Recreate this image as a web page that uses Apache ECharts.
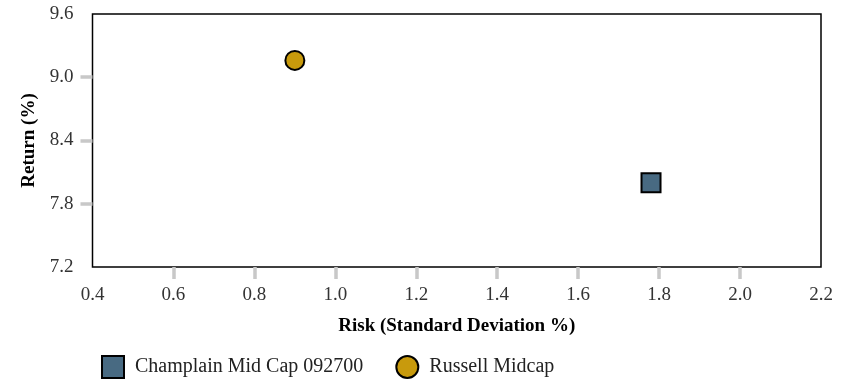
<!DOCTYPE html>
<html><head><meta charset="utf-8">
<script src="https://cdn.jsdelivr.net/npm/echarts@6/dist/echarts.min.js"></script>
<style>html,body{margin:0;padding:0;background:#fff}#c{width:852px;height:380px}</style>
</head><body><div id="c"></div>
<script>
const seriesNames = ["Champlain Mid Cap 092700", "Russell Midcap"];
const champlainPoint = [1.78, 8.0];
const russellPoint = [0.90, 9.16];
const xTicks = [0.6, 0.8, 1.0, 1.2, 1.4, 1.6, 1.8, 2.0];
const yTicks = [7.8, 8.4, 9.0];
const font = "'Liberation Serif', 'DejaVu Serif', serif";
const chart = echarts.init(document.getElementById('c'));
chart.setOption({
  animation: false,
  grid: {left: 92.5, right: 31, top: 14, bottom: 113, show: true, borderColor: '#000', borderWidth: 1.5, containLabel: false},
  xAxis: {
    type: 'value', min: 0.4, max: 2.2, interval: 0.2,
    name: 'Risk (Standard Deviation %)', nameLocation: 'middle', nameGap: 50,
    nameTextStyle: {fontFamily: font, fontWeight: 'bold', fontSize: 19, color: '#000'},
    axisLine: {show: false},
    splitLine: {show: false},
    axisTick: {show: true, length: 12, customValues: xTicks, lineStyle: {color: '#c8c8c8', width: 3.5}},
    axisLabel: {fontFamily: font, fontSize: 19, color: '#333', margin: 19, formatter: v => v.toFixed(1)}
  },
  yAxis: {
    type: 'value', min: 7.2, max: 9.6, interval: 0.6,
    name: 'Return (%)', nameLocation: 'middle', nameGap: 53, nameRotate: 90,
    nameTextStyle: {fontFamily: font, fontWeight: 'bold', fontSize: 19, color: '#000'},
    axisLine: {show: false},
    splitLine: {show: false},
    axisTick: {show: true, length: 12, customValues: yTicks, lineStyle: {color: '#c8c8c8', width: 3.5}},
    axisLabel: {fontFamily: font, fontSize: 19, color: '#333', margin: 19, formatter: v => v.toFixed(1)}
  },
  legend: {
    left: 96, top: 350, itemWidth: 22, itemHeight: 22, itemGap: 32,
    textStyle: {fontFamily: font, fontSize: 20, color: '#222', padding: [0, 0, 0, 6]},
    data: [{name: seriesNames[0], icon: 'rect'}, {name: seriesNames[1], icon: 'circle'}]
  },
  series: [
    {name: seriesNames[0], type: 'scatter', symbol: 'rect', symbolSize: 19,
     itemStyle: {color: '#486a82', opacity: 1, borderColor: '#000', borderWidth: 2}, data: [champlainPoint]},
    {name: seriesNames[1], type: 'scatter', symbol: 'circle', symbolSize: 19,
     itemStyle: {color: '#c89a0c', opacity: 1, borderColor: '#000', borderWidth: 2}, data: [russellPoint]}
  ]
});
</script></body></html>
